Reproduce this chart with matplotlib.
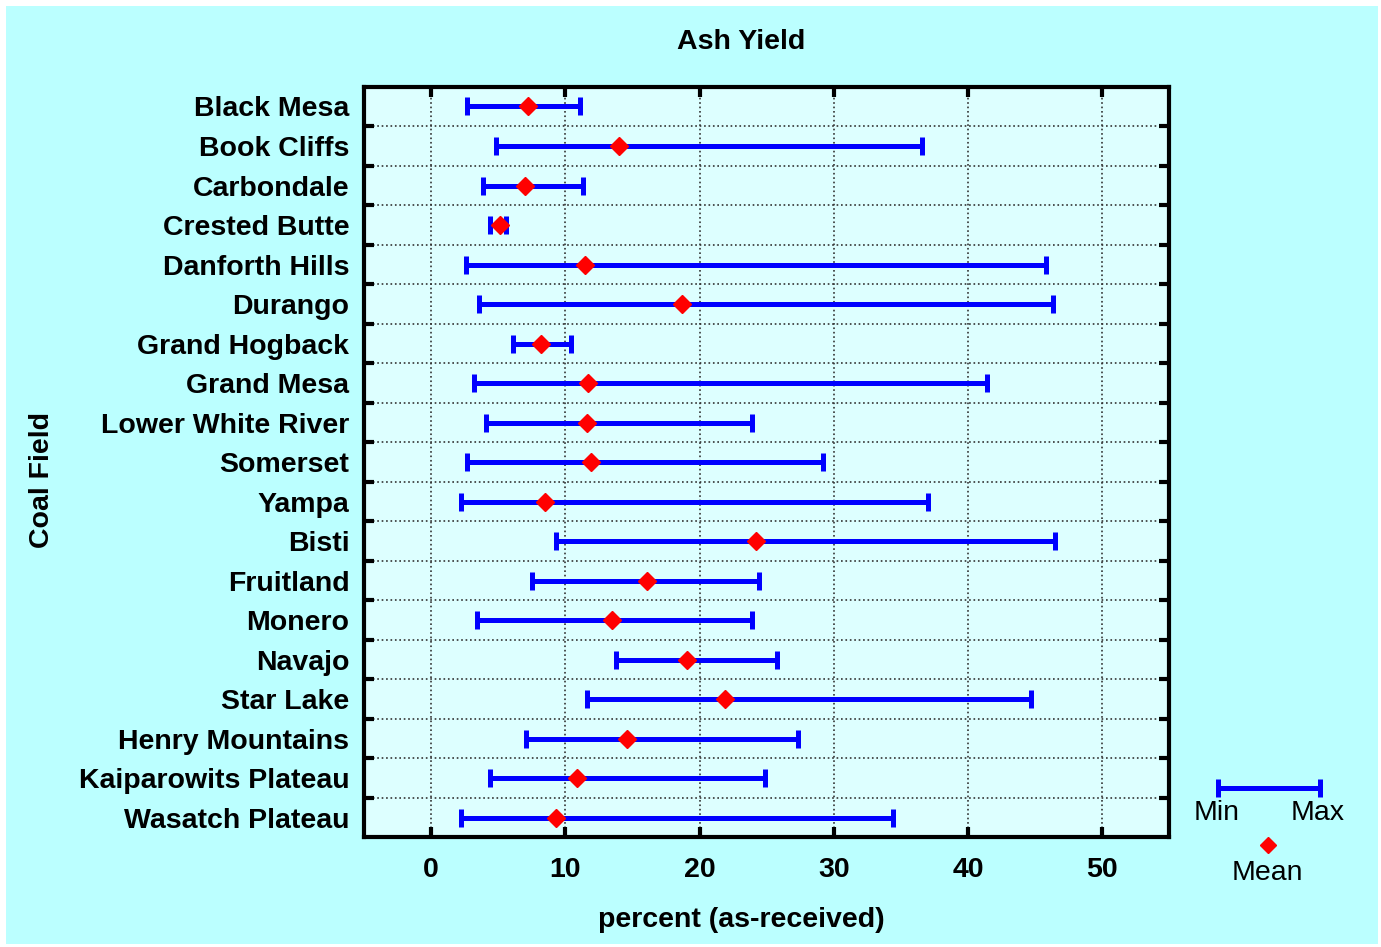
import matplotlib
matplotlib.use("Agg")
import matplotlib.pyplot as plt
import matplotlib.patches as patches
import numpy as np

plt.rcParams['font.family'] = ['Liberation Sans', 'DejaVu Sans']

# ---------------- Data ----------------
fields = ["Black Mesa", "Book Cliffs", "Carbondale", "Crested Butte", "Danforth Hills",
          "Durango", "Grand Hogback", "Grand Mesa", "Lower White River", "Somerset",
          "Yampa", "Bisti", "Fruitland", "Monero", "Navajo", "Star Lake",
          "Henry Mountains", "Kaiparowits Plateau", "Wasatch Plateau"]
ash_min = [2.7, 4.8, 3.9, 4.4, 2.6, 3.6, 6.1, 3.2, 4.1, 2.7,
           2.2, 9.3, 7.5, 3.4, 13.8, 11.6, 7.1, 4.4, 2.2]
ash_mean = [7.2, 14.0, 7.0, 5.1, 11.5, 18.7, 8.2, 11.7, 11.6, 11.9,
            8.5, 24.2, 16.1, 13.5, 19.1, 21.9, 14.6, 10.9, 9.3]
ash_max = [11.1, 36.6, 11.3, 5.6, 45.8, 46.3, 10.4, 41.4, 23.9, 29.2,
           37.0, 46.5, 24.4, 23.9, 25.8, 44.7, 27.3, 24.9, 34.4]
xticks = [0, 10, 20, 30, 40, 50]

BLUE = '#0000ff'
RED = '#ff0000'
OUTER_BG = '#bbffff'
INNER_BG = '#ddffff'
FS = 20.5

fig = plt.figure(figsize=(13.81, 9.47), dpi=100, facecolor='white')
fig.patches.append(patches.Rectangle((6 / 1381, 3 / 947), 1372 / 1381, 938 / 947,
                                     transform=fig.transFigure, facecolor=OUTER_BG,
                                     edgecolor='none', zorder=-10))

ax = fig.add_axes([0.2636, 0.1158, 0.5831, 0.7926])
ax.set_facecolor(INNER_BG)

y = np.arange(len(fields))
ax.hlines(y, ash_min, ash_max, color=BLUE, lw=3.6, zorder=3)
ax.plot(ash_min, y, ls='none', marker='|', ms=13, mew=3.6, color=BLUE, zorder=3)
ax.plot(ash_max, y, ls='none', marker='|', ms=13, mew=3.6, color=BLUE, zorder=3)
ax.plot(ash_mean, y, ls='none', marker='D', ms=9, color=RED, zorder=4)

ax.set_xlim(-5, 55)
ax.set_ylim(len(fields) - 0.5, -0.5)
ax.set_xticks(xticks)
ax.set_xticklabels([str(v) for v in xticks], fontsize=FS, fontweight='bold')
ax.set_yticks(y)
ax.set_yticklabels(fields, fontsize=FS, fontweight='bold')
ax.set_yticks(np.arange(len(fields) - 1) + 0.5, minor=True)

ax.tick_params(axis='y', which='major', length=0, pad=10.5)
ax.tick_params(axis='y', which='minor', direction='in', length=7, width=3,
               left=True, right=True)
ax.tick_params(axis='x', which='major', direction='in', length=7, width=3,
               top=True, bottom=True, pad=14)

ax.grid(True, axis='x', which='major', ls=':', color='#333333', lw=1.2)
ax.grid(True, axis='y', which='minor', ls=':', color='#333333', lw=1.2)
for s in ax.spines.values():
    s.set_linewidth(3)

fig.text(741 / 1381, 1 - 42 / 947, 'Ash Yield', ha='center', va='center',
         fontsize=FS, fontweight='bold')
fig.text(741 / 1381, 1 - 920 / 947, 'percent (as-received)', ha='center', va='center',
         fontsize=FS, fontweight='bold')
fig.text(42 / 1381, 1 - 480 / 947, 'Coal Field', ha='center', va='center',
         rotation=90, fontsize=FS, fontweight='bold')

# ---------------- Legend key ----------------
lg = fig.add_axes([1190 / 1381, 1 - 900 / 947, 160 / 1381, 130 / 947])
lg.set_xlim(0, 160)
lg.set_ylim(130, 0)
lg.axis('off')
lg.plot([28, 130], [18, 18], color=BLUE, lw=3.6)
lg.plot([28, 130], [18, 18], ls='none', marker='|', ms=13, mew=3.6, color=BLUE)
lg.text(27, 43, 'Min', ha='center', va='center', fontsize=FS)
lg.text(128, 43, 'Max', ha='center', va='center', fontsize=FS)
lg.plot([78], [75], ls='none', marker='D', ms=8, color=RED)
lg.text(77, 103, 'Mean', ha='center', va='center', fontsize=FS)

fig.savefig('out.png', dpi=100, facecolor=fig.get_facecolor())
